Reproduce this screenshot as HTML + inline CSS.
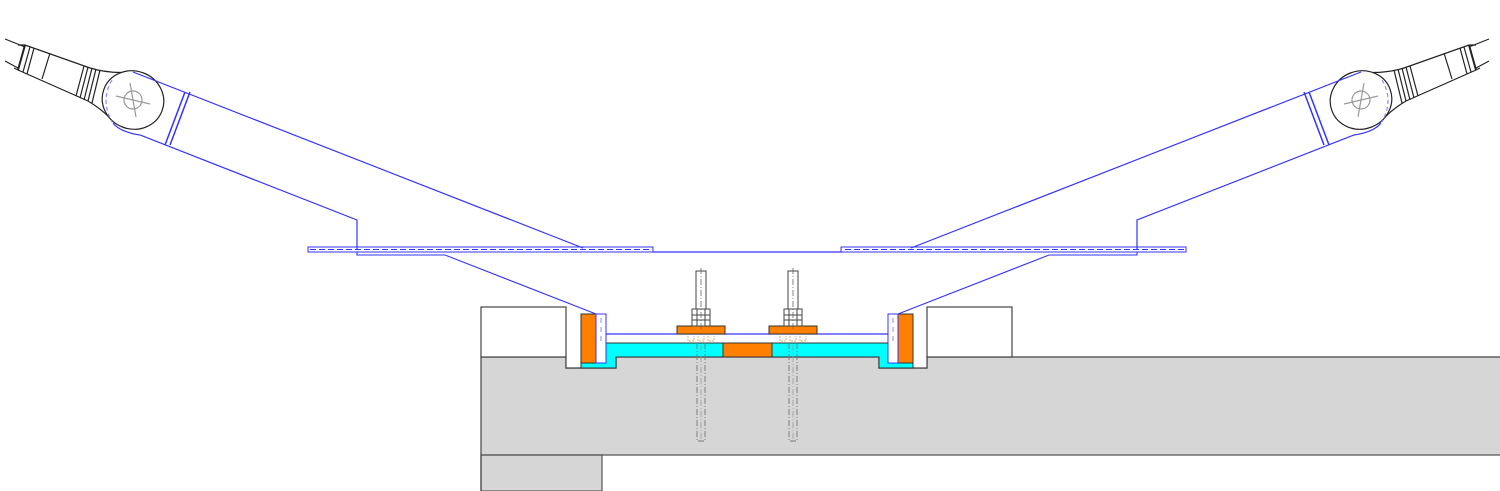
<!DOCTYPE html>
<html><head><style>html,body{margin:0;padding:0;background:#fff}svg{display:block}</style></head><body>
<svg width="1500" height="491" viewBox="0 0 1500 491" xmlns="http://www.w3.org/2000/svg">
<!-- concrete -->
<rect x="481" y="357" width="1020" height="98" fill="#d6d6d6"/>
<rect x="481" y="455" width="121" height="36" fill="#d6d6d6" stroke="#555" stroke-width="1.2"/>
<path d="M481 491 V357 H566 V368 H616 V357 H879 V368 H927 V357 H1500" fill="none" stroke="#444" stroke-width="1.2"/>
<line x1="481" y1="455" x2="1500" y2="455" stroke="#555" stroke-width="1.2"/>
<!-- pockets white -->
<rect x="566" y="357" width="50" height="11" fill="#fff"/>
<rect x="879" y="357" width="48" height="11" fill="#fff"/>
<path d="M566 357 V368 H616 V357 M879 357 V368 H927 V357" fill="none" stroke="#444" stroke-width="1.2"/>
<!-- blocks -->
<rect x="481" y="307" width="85" height="50" fill="#fff" stroke="#444" stroke-width="1.2"/>
<rect x="927" y="307" width="85" height="50" fill="#fff" stroke="#444" stroke-width="1.2"/>
<!-- cyan grout -->
<path d="M581 363 H606 V343 H723 V357 H616 V368 H581 Z" fill="#00ffff" stroke="#333" stroke-width="1"/>
<path d="M913 363 H888 V343 H772 V357 H879 V368 H913 Z" fill="#00ffff" stroke="#333" stroke-width="1"/>
<rect x="723" y="343" width="49" height="14" fill="#ff8000" stroke="#333" stroke-width="1"/>
<!-- pads -->
<rect x="581" y="314" width="15" height="49" fill="#ff8000" stroke="#333" stroke-width="1"/>
<rect x="898" y="314" width="15" height="49" fill="#ff8000" stroke="#333" stroke-width="1"/>
<rect x="596" y="314" width="10" height="49" fill="#fff" stroke="#33f" stroke-width="1"/>
<rect x="888" y="314" width="10" height="49" fill="#fff" stroke="#33f" stroke-width="1"/>
<line x1="601" y1="318" x2="601" y2="345" stroke="#88f" stroke-dasharray="5,4"/>
<line x1="893" y1="318" x2="893" y2="345" stroke="#88f" stroke-dasharray="5,4"/>
<line x1="606" y1="334" x2="888" y2="334" stroke="#33f" stroke-width="1.2"/>
<!-- bolts -->
<g id="bolt" stroke-width="1">
<rect x="677" y="326" width="48" height="8" fill="#ff8000" stroke="#333"/>
<rect x="692" y="309" width="18" height="17" fill="#fff" stroke="#444"/>
<line x1="692" y1="315" x2="710" y2="315" stroke="#444"/><line x1="692" y1="320" x2="710" y2="320" stroke="#444"/>
<line x1="697" y1="309" x2="697" y2="326" stroke="#444"/><line x1="705" y1="309" x2="705" y2="326" stroke="#444"/>
<rect x="696" y="271" width="10" height="38" fill="#fff" stroke="#444"/>
<line x1="701" y1="268" x2="701" y2="330" stroke="#666" stroke-dasharray="6,2,1,2" stroke-width="0.8"/>
<path d="M688 336 v5 h6 v-5 M698 336 v5 h6 v-5 M708 336 v5 h6 v-5" fill="none" stroke="#e0b070" stroke-dasharray="2,1"/>
<path d="M697 343 V441 H705 V343" fill="none" stroke="#777" stroke-dasharray="6,2,1,2" stroke-width="0.9"/>
<line x1="701" y1="345" x2="701" y2="440" stroke="#999" stroke-dasharray="6,2,1,2" stroke-width="0.8"/>
</g>
<use href="#bolt" transform="translate(92,0)"/>
<!-- strut left -->
<g id="strut" fill="none" stroke-width="1.2">
<path d="M18 45 L25 45 L90 68 Q110 74 132 72" stroke="#222"/>
<path d="M14 68 L18 70 L88 101 Q100 108 110 118" stroke="#222"/>
<line x1="5" y1="39" x2="25" y2="47" stroke="#222"/>
<line x1="5" y1="61" x2="18" y2="68" stroke="#222"/>
<path d="M25 45 L18 70" stroke="#222" stroke-width="2"/>
<path d="M30 47 L23 72 M34 48 L27 74 M50 53 L42 79" stroke="#222"/>
<path d="M84 66 L76 96 M88 67 L80 98 M92 68 L84 100 M96 69 L88 101 M100 70 L92 103" stroke="#222"/>
<ellipse cx="133" cy="100" rx="31" ry="29" transform="rotate(20 133 100)" fill="#fff" stroke="#222"/>
<circle cx="133" cy="100" r="9" stroke="#999"/>
<path d="M116 96 L150 104 M130 83 L136 117" stroke="#999"/>
<path d="M112 80 Q100 100 112 122" stroke="#88f" stroke-dasharray="4,3"/>
<path d="M133 72 L583 248" stroke="#33f"/>
<path d="M113 123 Q120 132 140 135 L357 220 V250" stroke="#33f"/>
<path d="M185 92 L165 145 M190 92 L170 145" stroke="#33f" stroke-width="1.5"/>
<rect x="308" y="247" width="345" height="5" stroke="#33f" stroke-width="1"/>
<line x1="310" y1="249.5" x2="650" y2="249.5" stroke="#33f" stroke-dasharray="6,3" stroke-width="1"/>
<path d="M357 252 V255 H445 L596 314" stroke="#33f" stroke-width="1.1"/>
</g>
<use href="#strut" transform="translate(1494,0) scale(-1,1)"/>
<line x1="653" y1="252" x2="842" y2="252" stroke="#33f" stroke-width="1.2"/>
</svg>
</body></html>
